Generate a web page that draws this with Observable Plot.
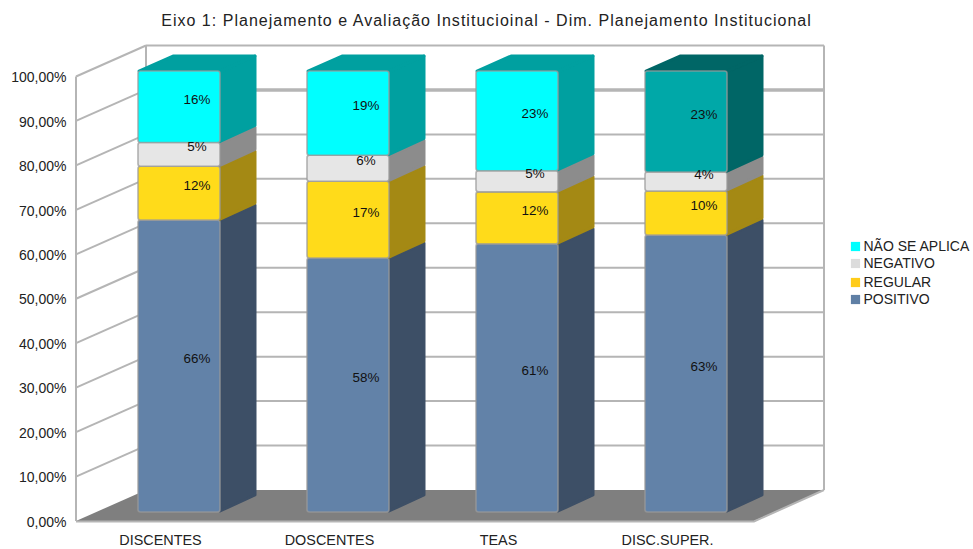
<!DOCTYPE html>
<html lang="pt">
<head>
<meta charset="utf-8">
<script src="https://cdn.jsdelivr.net/npm/d3@7"></script>
<script src="https://cdn.jsdelivr.net/npm/@observablehq/plot@0.6"></script>
<style>
html,body{margin:0;padding:0;background:#fff}
svg{display:block}
</style>
</head>
<body>
<div id="chart"></div>
<script>
const titleText = "Eixo 1: Planejamento e Avaliação Institucioinal - Dim. Planejamento Institucional";
const categories = ["DISCENTES", "DOSCENTES", "TEAS", "DISC.SUPER."];
const seriesNames = ["POSITIVO", "REGULAR", "NEGATIVO", "NÃO SE APLICA"];
const positivo = [66.2, 57.6, 60.8, 62.8];
const regular = [12.2, 17.4, 11.8, 10.0];
const negativo = [5.4, 5.9, 4.8, 4.3];
const naoSeAplica = [16.2, 19.1, 22.6, 22.9];
const seriesValues = [positivo, regular, negativo, naoSeAplica];
const yTicks = [0, 10, 20, 30, 40, 50, 60, 70, 80, 90, 100];

const frontColors = ["#6282a8", "#ffdb1a", "#e6e6e6", "#00ffff"];
const sideColors = ["#3d4f66", "#a48914", "#8c8c8c", "#00a0a0"];
const frontColorsLast = ["#6282a8", "#ffdb1a", "#e6e6e6", "#00a8a8"];
const sideColorsLast = ["#3d4f66", "#a48914", "#8c8c8c", "#006666"];
const legendColors = ["#5f7fa5", "#ffcc1a", "#dcdcdc", "#00ffff"];

const rows = [];
seriesNames.forEach((name, s) => {
  categories.forEach((cat, c) => {
    const last = c === categories.length - 1;
    rows.push({
      cat, name, s, value: seriesValues[s][c],
      front: (last ? frontColorsLast : frontColors)[s],
      side: (last ? sideColorsLast : sideColors)[s]
    });
  });
});

const gridColor = "#b5b5b5";
const wallDx = 70, wallDy = -31;
const barDx = 17, barBase = -9, barK = 0.992;
const sideDx = 35, sideDy = -16;
const marginLeft = 76, marginTop = 76.5;

function floorRender(index, scales, values, dim) {
  const x0 = dim.marginLeft, x1 = dim.width - dim.marginRight, y0 = scales.y(0);
  const g = d3.create("svg:g");
  g.append("path")
    .attr("d", `M${x0},${y0}L${x0 + wallDx},${y0 + wallDy}L${x1 + wallDx},${y0 + wallDy}L${x1},${y0}Z`)
    .attr("fill", "#7f7f7f");
  g.append("path").attr("d", `M${x0},${y0 + 0.5}L${x1},${y0 + 0.5}L${x1 + wallDx},${y0 + wallDy}`)
    .attr("fill", "none").attr("stroke", gridColor).attr("stroke-width", 2);
  return g.node();
}

function gridRender(index, scales, values, dim) {
  const x0 = dim.marginLeft, x1 = dim.width - dim.marginRight;
  const g = d3.create("svg:g").attr("fill", "none").attr("stroke", gridColor);
  for (const i of index) {
    const t = yTicks[i], y = values.y[i];
    if (t === 0) continue;
    g.append("path")
      .attr("d", `M${x0},${y}L${x0 + wallDx},${y + wallDy}`)
      .attr("stroke-width", 2);
    g.append("path")
      .attr("d", `M${x0 + wallDx},${y + wallDy}L${x1 + wallDx},${y + wallDy}`)
      .attr("stroke-width", t === 90 ? 3.5 : 2);
  }
  const yb = scales.y(0), yt = scales.y(100);
  g.append("path").attr("stroke-width", 2)
    .attr("d", `M${x0},${yt}L${x0},${yb}M${x0 + wallDx},${yt + wallDy}L${x0 + wallDx},${yb + wallDy}M${x1 + wallDx},${yt + wallDy}L${x1 + wallDx},${yb + wallDy}`);
  return g.node();
}

function barRender(index, scales, values) {
  const g = d3.create("svg:g");
  const base = scales.y(0);
  const w = scales.x.bandwidth();
  const py = v => base + (v - base) * barK + barBase;
  for (const i of index) {
    const d = rows[i];
    const x = scales.x(d.cat) + barDx;
    const a = py(values.y1[i]), b = py(values.y2[i]);
    const top = Math.min(a, b), bot = Math.max(a, b);
    g.append("path")
      .attr("d", `M${x + w},${top + 1}L${x + w + sideDx},${top + sideDy + 1}L${x + w + sideDx},${bot + sideDy - 1}L${x + w},${bot - 1}Z`)
      .attr("fill", d.side).attr("stroke", d.side).attr("stroke-width", 3).attr("stroke-linejoin", "round");
    if (d.s === seriesNames.length - 1) {
      g.append("path")
        .attr("d", `M${x + 1},${top}L${x + sideDx},${top + sideDy + 1}L${x + w + sideDx},${top + sideDy + 1}L${x + w},${top}Z`)
        .attr("fill", d.side).attr("stroke", d.side).attr("stroke-width", 3).attr("stroke-linejoin", "round");
    }
    g.append("rect")
      .attr("x", x).attr("y", top).attr("width", w).attr("height", bot - top).attr("rx", 2.5)
      .attr("fill", d.front).attr("stroke", "#9a9a9a").attr("stroke-opacity", 0.75).attr("stroke-width", 1.6);
  }
  return g.node();
}

function labelRender(index, scales, values, dim, ctx, next) {
  const base = scales.y(0);
  const y = Array.from(values.y, v => base + (v - base) * barK + barBase - 7.7);
  return next(index, scales, {...values, y}, dim, ctx);
}

function spacedRender(index, scales, values, dim, ctx, next) {
  const node = next(index, scales, values, dim, ctx);
  node.setAttribute("letter-spacing", "1.02");
  return node;
}

const stackOpts = {x: "cat", y: "value", z: "s", order: null};
const fontFamily = "'Liberation Sans', Arial, sans-serif";

const legendMarks = seriesNames.slice().reverse().flatMap((name, i) => {
  const dyPos = [246, 263, 282, 299][i] - marginTop;
  const color = legendColors[seriesNames.length - 1 - i];
  return [
    Plot.dot([name], {frameAnchor: "top-left", dx: 855 - marginLeft, dy: dyPos, symbol: "square", r: 5.2, fill: color}),
    Plot.text([name], {frameAnchor: "top-left", lineAnchor: "middle", dx: 863 - marginLeft, dy: dyPos, text: d => d, textAnchor: "start", fontSize: 14, fill: "#222"})
  ];
});

const chart = Plot.plot({
  width: 973,
  height: 549,
  marginLeft,
  marginRight: 219,
  marginTop,
  marginBottom: 28,
  style: {fontFamily, background: "#fff", overflow: "visible"},
  x: {domain: categories, paddingInner: 0.515, paddingOuter: 0.2575, label: null},
  y: {domain: [0, 100], label: null},
  marks: [
    Plot.ruleY([0], {y: d => d, render: floorRender}),
    Plot.ruleY(yTicks, {y: d => d, render: gridRender}),
    Plot.barY(rows, Plot.stackY({...stackOpts, render: barRender})),
    Plot.text(rows, Plot.stackY({...stackOpts, text: d => Math.round(d.value) + "%", dx: 34.5, fontSize: 13.4, fill: "#111", render: labelRender})),
    Plot.axisY(yTicks, {tickSize: 0, tickPadding: 10, dy: 0.7, tickFormat: d => d.toFixed(2).replace(".", ",") + "%", fontSize: 14, fill: "#222", label: null}),
    Plot.axisX(categories, {tickSize: 0, tickPadding: 13, dx: -2, fontSize: 14.4, fill: "#222", label: null}),
    Plot.text([titleText], {frameAnchor: "top-left", lineAnchor: "middle", dx: 486 - marginLeft, dy: 20.5 - marginTop, text: d => d, textAnchor: "middle", fontSize: 16, fill: "#222", render: spacedRender}),
    ...legendMarks
  ]
});
document.getElementById("chart").appendChild(chart);
</script>
</body>
</html>
